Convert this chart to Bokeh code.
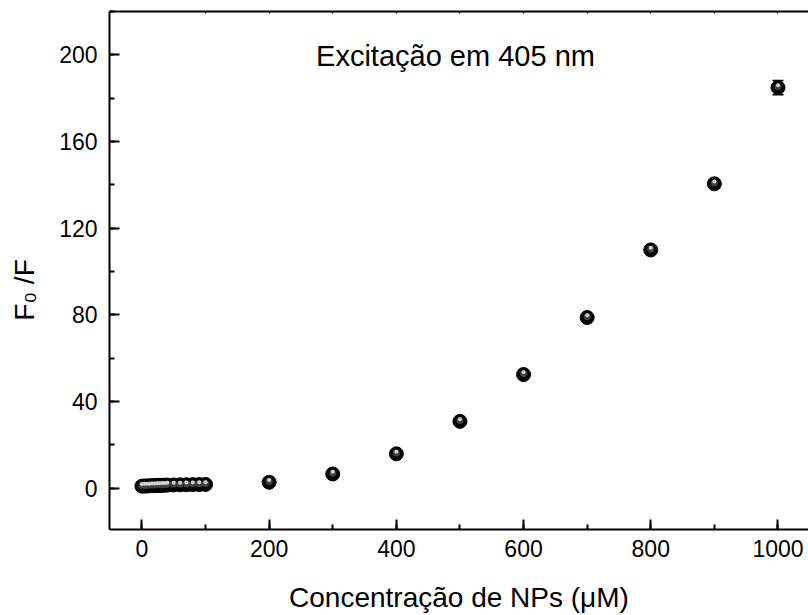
from bokeh.plotting import figure
from bokeh.models import (Range1d, LinearAxis, Label, Whisker, TeeHead,
                          ColumnDataSource, SingleIntervalTicker, FixedTicker)
from bokeh.embed import file_html
from bokeh.resources import INLINE

# Stern-Volmer data: concentration (uM) vs F0/F
conc = [0, 4, 8, 12, 16, 20, 24, 28, 32, 36, 40, 50, 60, 70, 80, 90, 100,
        200, 300, 400, 500, 600, 700, 800, 900, 1000]
f0_f = [1.0, 1.05, 1.1, 1.15, 1.2, 1.25, 1.3, 1.35, 1.4, 1.45, 1.5, 1.55, 1.6,
        1.65, 1.7, 1.75, 1.8, 2.8, 6.6, 15.9, 30.9, 52.5, 78.8, 110.0, 140.5, 184.9]
err = [0.2] * 17 + [0.4, 0.5, 0.7, 0.9, 1.0, 1.2, 1.4, 1.6, 3.3]

top_ticks = [100, 200, 300, 400, 500, 600, 700, 800, 900, 1000]
title_text = "Excitação em 405 nm"
x_title = "Concentração de NPs (μM)"
# F-zero over F; trailing no-break spaces nudge the centred title downward
y_title = "F\u2080 /F" + "\u00a0" * 5

FONT = "Liberation Sans"
W, H = 808, 615
FL, FR, FT, FB = 109, 808, 11, 529
X0, X1 = -51, 1048
Y0, Y1 = -19, 220


def dx(px):
    return X0 + (px - FL) / (FR - FL) * (X1 - X0)


def dy(py):
    return Y0 + (FB - py) / (FB - FT) * (Y1 - Y0)


ypx = (Y1 - Y0) / (FB - FT)  # data units per pixel (y)

p = figure(width=W, height=H, x_range=Range1d(X0, X1), y_range=Range1d(Y0, Y1),
           output_backend="svg", toolbar_location=None,
           min_border_left=FL, min_border_right=W - FR,
           min_border_top=FT, min_border_bottom=H - FB)
p.outline_line_color = None
p.xgrid.visible = False
p.ygrid.visible = False
p.background_fill_color = "white"
p.border_fill_color = "white"

for ax in (p.xaxis[0], p.yaxis[0]):
    ax.axis_line_width = 2
    ax.major_tick_line_width = 2
    ax.minor_tick_line_width = 2
    ax.major_tick_in = 10
    ax.major_tick_out = 0
    ax.minor_tick_in = 5
    ax.minor_tick_out = 0
    ax.major_label_text_font = FONT
    ax.major_label_text_font_size = "23px"
    ax.major_label_text_color = "black"
    ax.axis_line_color = "black"
    ax.major_tick_line_color = "black"
    ax.minor_tick_line_color = "black"
    ax.axis_label_text_font = FONT
    ax.axis_label_text_font_style = "normal"
    ax.axis_label_text_color = "black"

p.xaxis.ticker = SingleIntervalTicker(interval=200, num_minor_ticks=2)
p.yaxis.ticker = SingleIntervalTicker(interval=40, num_minor_ticks=2)
p.xaxis.major_label_standoff = 10
p.yaxis.major_label_standoff = 12

p.xaxis.axis_label = x_title
p.xaxis.axis_label_text_font_size = "28px"
p.xaxis.axis_label_standoff = 22

p.yaxis.axis_label = y_title
p.yaxis.axis_label_text_font_size = "28px"
p.yaxis.axis_label_standoff = 16

# top frame line with tiny inward ticks
top = LinearAxis(ticker=FixedTicker(ticks=[], minor_ticks=top_ticks),
                 axis_line_width=2, major_tick_in=0, major_tick_out=0,
                 minor_tick_in=2, minor_tick_out=0, minor_tick_line_width=1,
                 major_label_standoff=0)
p.add_layout(top, "above")

src = ColumnDataSource(dict(
    x=conc, y=f0_f,
    lo=[v - e for v, e in zip(f0_f, err)],
    hi=[v + e for v, e in zip(f0_f, err)],
    y_mid=[v + 0.8 * ypx for v in f0_f],
    y_hi=[v + 2.2 * ypx for v in f0_f],
))

wh = Whisker(base="x", lower="lo", upper="hi", source=src,
             line_color="black", line_width=1.5,
             upper_head=TeeHead(size=11, line_width=1.5, line_color="black"),
             lower_head=TeeHead(size=11, line_width=1.5, line_color="black"),
             level="underlay")
p.add_layout(wh)

# shaded spheres
p.scatter("x", "y", source=src, size=14, fill_color="#050505", line_color="#000000", line_width=1)
p.scatter("x", "y_mid", source=src, size=7, fill_color="#404040", line_color=None)
p.scatter("x", "y_hi", source=src, size=4, fill_color="#d0d0d0", line_color=None)

p.add_layout(Label(x=dx(455), y=dy(55), text=title_text, text_font=FONT,
                   text_font_size="29px", text_color="black",
                   text_align="center", text_baseline="middle"))

open("out.html", "w").write(file_html(p, INLINE))
